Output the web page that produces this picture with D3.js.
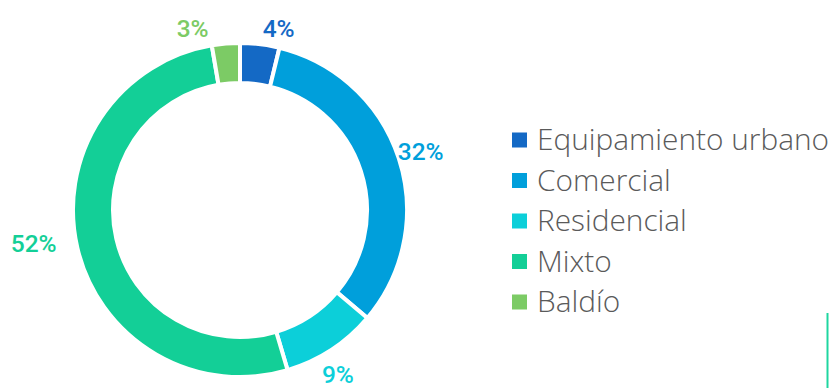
<!DOCTYPE html>
<html>
<head>
<meta charset="utf-8">
<script src="https://cdn.jsdelivr.net/npm/d3@7"></script>
<style>
  body { margin: 0; background: #fff; }
  svg { display: block; }
</style>
</head>
<body>
<script>
// chart data
var categories = ["Equipamiento urbano", "Comercial", "Residencial", "Mixto", "Baldío"];
var values = [3.8, 32.4, 9.2, 51.9, 2.7]; // percent
var colors = ["#1469c5", "#009fdb", "#0ccfd9", "#13cf97", "#7ccb65"];

var width = 837, height = 388;
var cx = 240, cy = 210;
var outerR = 167, innerR = 127;

var svg = d3.select("body").append("svg")
  .attr("width", width)
  .attr("height", height);

var pie = d3.pie().sort(null).value(function(d) { return d.value; });
var arc = d3.arc().innerRadius(innerR).outerRadius(outerR);

var rows = categories.map(function(c, i) {
  return { name: c, value: values[i], color: colors[i] };
});

var g = svg.append("g").attr("transform", "translate(" + cx + "," + cy + ")");

g.selectAll("path.slice")
  .data(pie(rows))
  .enter().append("path")
  .attr("class", "slice")
  .attr("d", arc)
  .attr("fill", function(d) { return d.data.color; })
  .attr("stroke", "#fff")
  .attr("stroke-width", 4);

// labels outside the ring, a few moved by hand like in the original
var labelR = 190;
var nudge = {
  "Equipamiento urbano": { a: 0.09, r: 186 },
  "Baldío": { a: -0.17, r: 188 },
  "Residencial": { a: 0.04, r: 191 },
  "Mixto": { a: 0.07, r: 209 }
};
var fmt = function(v) { return Math.round(v) + "%"; };

function labelPos(d) {
  var n = nudge[d.data.name] || { a: 0, r: labelR };
  var a = (d.startAngle + d.endAngle) / 2 + n.a;
  return [Math.sin(a) * n.r, -Math.cos(a) * n.r];
}

g.selectAll("text.lbl")
  .data(pie(rows))
  .enter().append("text")
  .attr("class", "lbl")
  .attr("x", function(d) { return labelPos(d)[0]; })
  .attr("y", function(d) { return labelPos(d)[1]; })
  .attr("text-anchor", "middle")
  .attr("dy", "0.36em")
  .attr("fill", function(d) { return d.data.color; })
  .style("font-family", "Roboto, sans-serif")
  .style("font-weight", 500)
  .style("font-size", "24.5px")
  .text(function(d) { return fmt(d.data.value); });

// legend
var legend = svg.append("g").attr("transform", "translate(512,140)");
var item = legend.selectAll("g")
  .data(rows)
  .enter().append("g")
  .attr("transform", function(d, i) { return "translate(0," + (i * 40.5) + ")"; });

item.append("rect")
  .attr("x", 0).attr("y", -7.5)
  .attr("width", 15).attr("height", 15)
  .attr("fill", function(d) { return d.color; });

item.append("text")
  .attr("x", 25)
  .attr("dy", "0.35em")
  .attr("fill", "#5a5a5a")
  .style("font-family", "'Open Sans', sans-serif")
  .style("font-weight", 300)
  .style("font-size", "29.8px")
  .text(function(d) { return d.name; });

// thin accent line at bottom right
svg.append("line")
  .attr("x1", 827.5).attr("x2", 827.5)
  .attr("y1", 313).attr("y2", height)
  .attr("stroke", "#1fd6a0")
  .attr("stroke-width", 2);
</script>
</body>
</html>
